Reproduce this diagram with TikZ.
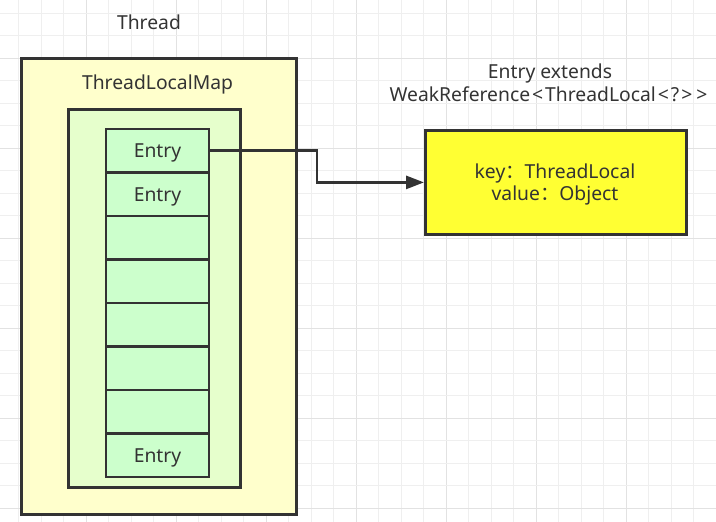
\documentclass[tikz,border=0pt]{standalone}
\usepackage{fontspec}
\setmainfont{Noto Sans}[Ligatures=NoCommon]
\newfontfamily\cjk{Noto Sans CJK SC}
\usetikzlibrary{arrows.meta}
\definecolor{gridminor}{HTML}{EFEFEF}
\definecolor{gridmajor}{HTML}{E2E2E2}
\definecolor{edgec}{HTML}{333333}
\definecolor{threadfill}{HTML}{FFFFCC}
\definecolor{mapfill}{HTML}{E6FFCC}
\definecolor{entryfill}{HTML}{CCFFCC}
\definecolor{keyfill}{HTML}{FFFF33}
\newcommand{\ltsym}{\kern2pt\char`\<\kern2pt}
\newcommand{\gtsym}{\kern2pt\char`\>\kern2pt}
\tikzset{
  box/.style={draw=edgec, line width=2.8pt, inner sep=0pt, anchor=north west},
  entrybox/.style={draw=edgec, line width=2.8pt, fill=entryfill, inner sep=0pt,
    minimum width=103pt, minimum height=43.5pt, text=edgec,
    text height=13.6pt, text depth=0pt},
  lbl/.style={text=edgec, inner sep=0pt, text height=13.6pt, text depth=0pt},
  arr/.style={draw=edgec, line width=2.8pt, -{Triangle[length=18pt,width=13pt]}},
}
\begin{document}
\begin{tikzpicture}[x=1pt,y=-1pt,font=\fontsize{19.3}{23}\selectfont]
\useasboundingbox (0,0) rectangle (716,522);
\fill[white] (0,0) rectangle (716,522);
% grid
\foreach \k in {0,...,31}{
  \pgfmathsetmacro{\xx}{18.5+22.5*\k}
  \pgfmathtruncatemacro{\m}{mod(\k,4)}
  \ifnum\m=3
    \draw[gridmajor, line width=1pt] (\xx,0) -- (\xx,522);
  \else
    \draw[gridminor, line width=1pt] (\xx,0) -- (\xx,522);
  \fi
}
\foreach \k in {0,...,22}{
  \pgfmathsetmacro{\yy}{13.3+22.5*\k}
  \pgfmathtruncatemacro{\m}{mod(\k,4)}
  \ifnum\m=2
    \draw[gridmajor, line width=1pt] (0,\yy) -- (716,\yy);
  \else
    \draw[gridminor, line width=1pt] (0,\yy) -- (716,\yy);
  \fi
}
% Thread box
\node[box, fill=threadfill, minimum width=275pt, minimum height=456pt] (thread) at (20,57) {};
\node[lbl] (threadlbl) at (149,22.5) {Thread};
% ThreadLocalMap box
\node[box, fill=mapfill, minimum width=172pt, minimum height=378pt] (map) at (67,108) {};
\node[lbl] (maplbl) at (157.5,82.5) {ThreadLocalMap};
% entries
\node[entrybox] (e1) at (157.5,150.75) {Entry};
\node[entrybox] (e2) at (157.5,194.25) {Entry};
\node[entrybox] (e3) at (157.5,237.75) {};
\node[entrybox] (e4) at (157.5,281.25) {};
\node[entrybox] (e5) at (157.5,324.75) {};
\node[entrybox] (e6) at (157.5,368.25) {};
\node[entrybox] (e7) at (157.5,411.75) {};
\node[entrybox] (e8) at (157.5,455.25) {Entry};
% entry class box
\node[box, fill=keyfill, minimum width=261pt, minimum height=104pt] (kv) at (424,129) {};
\node[lbl] (kvkey) at (555,171.5) {key{\cjk ：}ThreadLocal};
\node[lbl] (kvval) at (555,194) {value{\cjk ：}Object};
\node[lbl] (ext1) at (550,71.7) {Entry extends};
\node[lbl] (ext2) at (549.5,95) {WeakReference\ltsym ThreadLocal\ltsym ?\gtsym\gtsym};
% arrow
\coordinate (bend) at (317,0);
\draw[arr] (e1.east) -- (e1.east -| bend) |- (kv.west);
\end{tikzpicture}
\end{document}
